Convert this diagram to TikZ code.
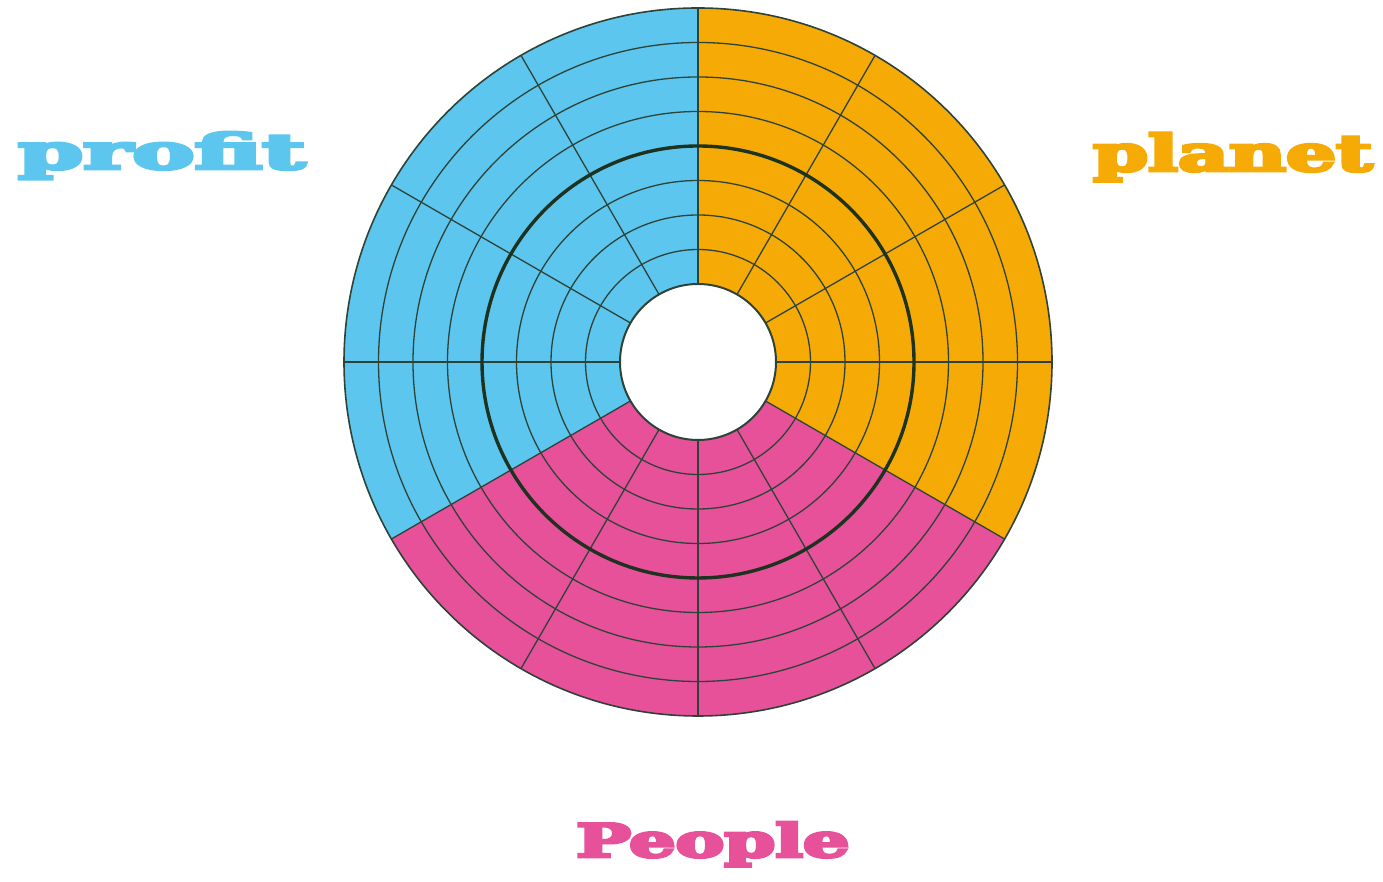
\documentclass[tikz,border=0pt]{standalone}
\usepackage{fontspec}
\usepackage{graphicx}
\newfontfamily\lblfont{DejaVu Serif}[BoldFeatures={FakeBold=6}]
\definecolor{cblue}{HTML}{5DC6EE}
\definecolor{corange}{HTML}{F6AA05}
\definecolor{cpink}{HTML}{E6519A}
\definecolor{linec}{HTML}{2E4338}
\definecolor{thickc}{HTML}{1E3220}
\begin{document}
\begin{tikzpicture}[x=1pt,y=1pt,
  gridline/.style={draw=linec, line width=1.3pt},
  thickring/.style={draw=thickc, line width=3.4pt},
  label/.style={anchor=base west, inner sep=0pt}]
\useasboundingbox (0,0) rectangle (1383,882);
\fill[white] (0,0) rectangle (1383,882);
\begin{scope}[shift={(698,520)}]
  \fill[cblue] (90:354pt) arc[start angle=90,end angle=210,radius=354pt]
     -- (210:78pt) arc[start angle=210,end angle=90,radius=78pt] -- cycle;
  \fill[cpink] (210:354pt) arc[start angle=210,end angle=330,radius=354pt]
     -- (330:78pt) arc[start angle=330,end angle=210,radius=78pt] -- cycle;
  \fill[corange] (330:354pt) arc[start angle=330,end angle=450,radius=354pt]
     -- (450:78pt) arc[start angle=450,end angle=330,radius=78pt] -- cycle;
  \foreach \r in {112.5,147,181.5,250.5,285,319.5}
    \draw[gridline] (0,0) circle[radius=\r pt];
  \foreach \a in {0,30,...,330}
    \draw[gridline] (\a:78pt) -- (\a:354pt);
  \draw[thickring] (0,0) circle[radius=216pt];
  \draw[draw=linec, line width=1.6pt] (0,0) circle[radius=354pt];
  \draw[draw=linec, fill=white, line width=2pt] (0,0) circle[radius=78pt];
\end{scope}
\node[label, text=cblue] (profit) at (18,713) {\resizebox{287pt}{37pt}{\lblfont\bfseries profit}};
\node[label, text=corange] (planet) at (1093,711) {\resizebox{279pt}{38pt}{\lblfont\bfseries planet}};
\node[label, text=cpink] (people) at (576,25) {\resizebox{273pt}{35pt}{\lblfont\bfseries People}};
\end{tikzpicture}
\end{document}
